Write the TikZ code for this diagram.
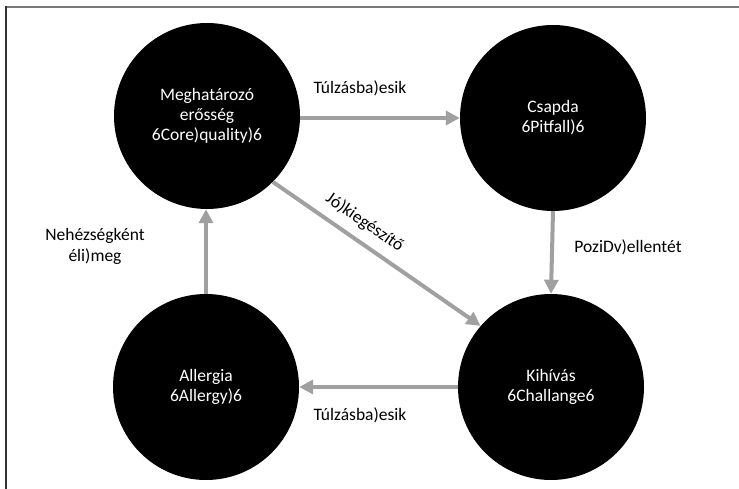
\documentclass[tikz,border=0pt]{standalone}
\usepackage{fontspec}
\setmainfont{Carlito}
\usetikzlibrary{arrows.meta}
\definecolor{arrowgray}{RGB}{160,160,160}
\definecolor{frametop}{RGB}{120,120,120}
\definecolor{frameleft}{RGB}{50,50,50}
\tikzset{
  bubble/.style={circle, fill=black, draw=none, text=white, minimum size=186pt, inner sep=0pt, align=center,
    font=\fontsize{17.5}{20}\selectfont},
  rel/.style={line width=4pt, draw=arrowgray, -{Triangle[length=14pt,width=14pt]}, shorten >=0pt},
  lbl/.style={text=black, align=center, inner sep=1pt, font=\fontsize{17.5}{21}\selectfont}
}
\begin{document}
\begin{tikzpicture}[x=1pt,y=-1pt]
\useasboundingbox (0,0) rectangle (739,489);
\draw[line width=1.6pt, frametop] (5.2,7) -- (739,7);
\draw[line width=1.6pt, frameleft] (6,6.2) -- (6,489);

\node[bubble] (core) at (207,116) {Meghatározó\\erősség\\6Core)quality)6};
\node[bubble] (pit) at (553,118) {Csapda\\6Pitfall)6};
\node[bubble] (all) at (206,387) {Allergia\\6Allergy)6};
\node[bubble] (chal) at (551,387) {Kihívás\\6Challange6};

\draw[rel] (core.east |- pit.west) -- (pit.west);
\draw[rel] (pit.south) -- (chal.north);
\draw[rel] (chal.west) -- (all.east);
\draw[rel] (all.north) -- (all.north |- core.south);
\draw[rel] (core.-45) -- node[lbl, pos=0.39, sloped, above=8pt] (jo) {Jó)kiegészítő} (chal.139);

\node[lbl] (t1) at (360,88) {Túlzásba)esik};
\node[lbl] (t2) at (628,247) {PoziDv)ellentét};
\node[lbl] (t3) at (360,415) {Túlzásba)esik};
\node[lbl] (t4) at (95,246) {Nehézségként\\éli)meg};
\end{tikzpicture}
\end{document}
